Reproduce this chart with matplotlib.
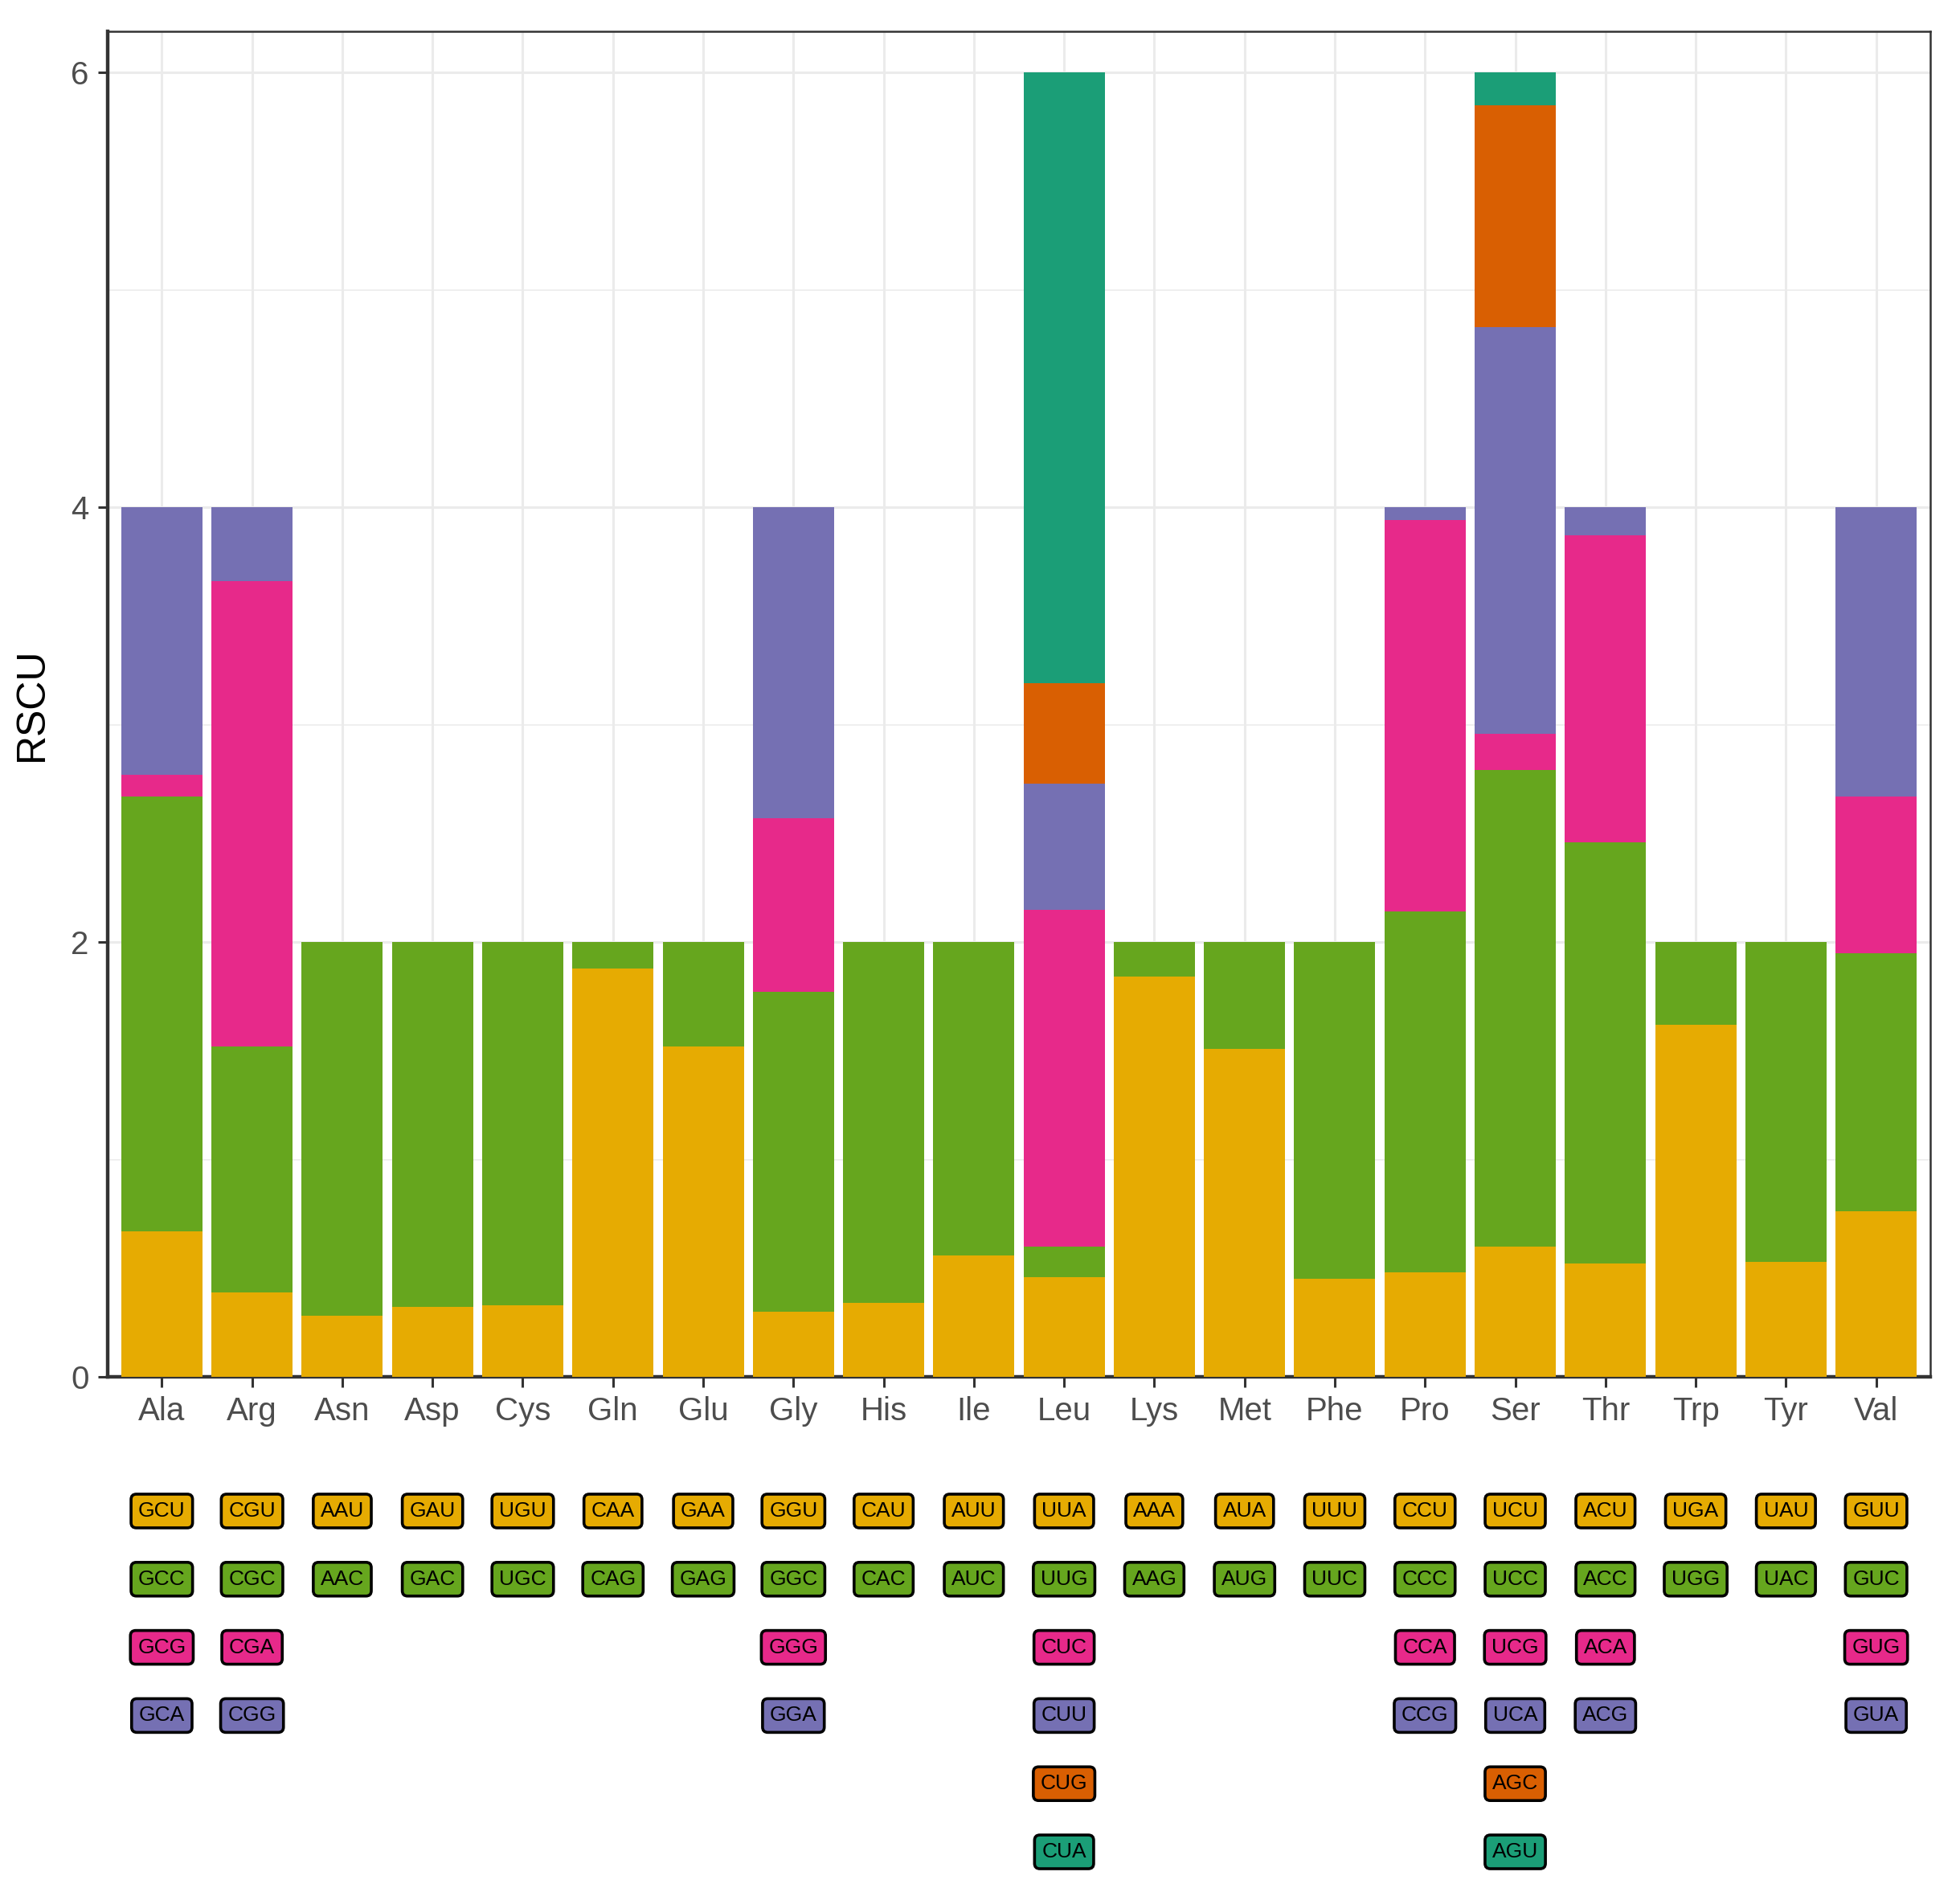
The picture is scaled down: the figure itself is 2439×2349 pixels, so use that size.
import matplotlib
matplotlib.use("Agg")
import matplotlib.pyplot as plt
import numpy as np

plt.rcParams['font.family'] = ['Liberation Sans', 'DejaVu Sans']

amino_acids = ["Ala", "Arg", "Asn", "Asp", "Cys", "Gln", "Glu", "Gly", "His", "Ile",
               "Leu", "Lys", "Met", "Phe", "Pro", "Ser", "Thr", "Trp", "Tyr", "Val"]

codons = [
    ["GCU", "GCC", "GCG", "GCA"],
    ["CGU", "CGC", "CGA", "CGG"],
    ["AAU", "AAC"],
    ["GAU", "GAC"],
    ["UGU", "UGC"],
    ["CAA", "CAG"],
    ["GAA", "GAG"],
    ["GGU", "GGC", "GGG", "GGA"],
    ["CAU", "CAC"],
    ["AUU", "AUC"],
    ["UUA", "UUG", "CUC", "CUU", "CUG", "CUA"],
    ["AAA", "AAG"],
    ["AUA", "AUG"],
    ["UUU", "UUC"],
    ["CCU", "CCC", "CCA", "CCG"],
    ["UCU", "UCC", "UCG", "UCA", "AGC", "AGU"],
    ["ACU", "ACC", "ACA", "ACG"],
    ["UGA", "UGG"],
    ["UAU", "UAC"],
    ["GUU", "GUC", "GUG", "GUA"],
]

rscu = [
    [0.67, 2.00, 0.10, 1.23],
    [0.39, 1.13, 2.14, 0.34],
    [0.28, 1.72],
    [0.32, 1.68],
    [0.33, 1.67],
    [1.88, 0.12],
    [1.52, 0.48],
    [0.30, 1.47, 0.80, 1.43],
    [0.34, 1.66],
    [0.56, 1.44],
    [0.46, 0.14, 1.55, 0.58, 0.46, 2.81],
    [1.84, 0.16],
    [1.51, 0.49],
    [0.45, 1.55],
    [0.48, 1.66, 1.80, 0.06],
    [0.60, 2.19, 0.17, 1.87, 1.02, 0.15],
    [0.52, 1.94, 1.41, 0.13],
    [1.62, 0.38],
    [0.53, 1.47],
    [0.76, 1.19, 0.72, 1.33],
]

palette = ["#E6AB02", "#66A61E", "#E7298A", "#7570B3", "#D95F02", "#1B9E77"]

W, H = 2439, 2349
dpi = 200
fig = plt.figure(figsize=(W / dpi, H / dpi), dpi=dpi)

# main panel
left, right, top, bottom = 134, 2402, 39, 1713
ax = fig.add_axes([left / W, 1 - bottom / H, (right - left) / W, (bottom - top) / H])

x = np.arange(1, len(amino_acids) + 1)
for i, (vals, cods) in enumerate(zip(rscu, codons)):
    base = 0.0
    for j, v in enumerate(vals):
        ax.bar(x[i], v, bottom=base, width=0.9, color=palette[j], edgecolor='none', zorder=3)
        base += v

ax.set_xlim(0.4, len(amino_acids) + 0.6)
ax.set_ylim(0, 6.19)
ax.set_xticks(x)
ax.set_xticklabels(amino_acids, fontsize=14.5, color="#4D4D4D")
ax.set_yticks([0, 2, 4, 6])
ax.set_yticklabels(["0", "2", "4", "6"], fontsize=14.5, color="#4D4D4D")
ax.set_yticks([1, 3, 5], minor=True)
ax.tick_params(axis='both', which='major', length=4.5, width=1.1, color="#333333", pad=4)
ax.tick_params(axis='y', which='minor', length=0)
ax.grid(True, which='major', axis='both', color="#EBEBEB", linewidth=1.1, zorder=0)
ax.grid(True, which='minor', axis='y', color="#EBEBEB", linewidth=0.55, zorder=0)
ax.set_axisbelow(True)
for s in ax.spines.values():
    s.set_color("#333333")
    s.set_linewidth(0.9)
ax.spines['bottom'].set_linewidth(1.6)
ax.spines['left'].set_linewidth(1.6)
ax.set_ylabel("RSCU", fontsize=18, color="black", labelpad=9)

# codon label panel
lab_top = 1835
ax2 = fig.add_axes([left / W, 0, (right - left) / W, (H - lab_top) / H])
ax2.set_xlim(0.4, len(amino_acids) + 0.6)
ax2.set_ylim(-6.53, -0.47)
ax2.axis('off')
for i, cods in enumerate(codons):
    for j, c in enumerate(cods):
        ax2.text(x[i], -(j + 1), c, ha='center', va='center', fontsize=9.5, color='black',
                 bbox=dict(boxstyle="round,pad=0.34,rounding_size=0.25",
                           facecolor=palette[j], edgecolor='black', linewidth=1.3))

fig.savefig("out.png", dpi=dpi, facecolor='white')
